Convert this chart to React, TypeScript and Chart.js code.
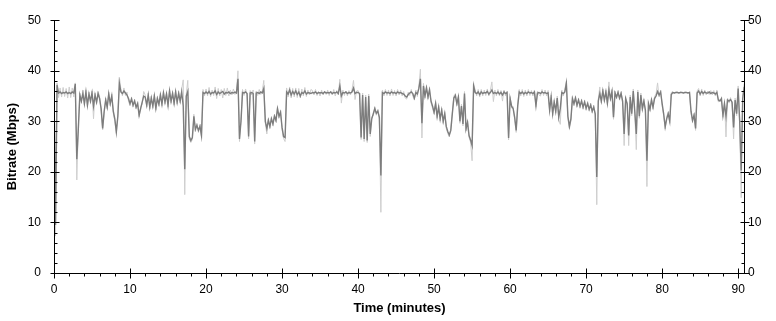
import { useEffect, useRef } from "react";
import { Chart, registerables } from "chart.js";

Chart.register(...registerables);

// Sampling interval of the trace (minutes)
const SAMPLE_STEP_MIN = 0.2;

// Main (average) bitrate trace, Mbps, one value per 0.2 min, rows of 2 minutes
const bitrateMbps: number[] = [
  36, 9.5, 37.2, 35.6, 35.8, 35.5, 35.7, 35.6, 35.8, 35.5,
  35.7, 35.5, 35.8, 35.6, 37.4, 22.5, 28.5, 35.2, 34.0, 35.5,
  33.5, 35.8, 33.2, 35.4, 34.0, 35.6, 33.0, 35.2, 33.8, 35.5,
  34.5, 32.5, 28.6, 32.0, 34.2, 32.8, 35.4, 33.5, 35.0, 32.0,
  30.5, 27.9, 31.0, 37.5, 35.8, 35.5, 36.0, 35.6, 35.2, 34.5,
  33.5, 34.4, 33.2, 34.0, 32.8, 33.5, 31.2, 32.5, 33.8, 35.0,
  34.8, 33.2, 35.2, 32.8, 34.6, 33.0, 35.0, 32.6, 34.5, 33.4,
  35.2, 33.4, 35.6, 33.8, 35.4, 33.2, 36.0, 34.0, 35.5, 33.6,
  35.8, 33.8, 35.5, 34.0, 35.8, 33.0, 20.5, 35.0, 35.9, 27.0,
  26.2, 26.8, 31.0, 28.4, 29.2, 28.2, 29.0, 27.2, 35.7, 35.5,
  35.8, 35.5, 35.9, 35.4, 35.7, 35.6, 36.0, 35.3, 35.8, 35.5,
  35.7, 35.9, 35.4, 35.7, 35.6, 35.8, 35.5, 35.7, 35.6, 35.8,
  35.6, 38.4, 26.5, 30.0, 35.7, 35.6, 35.8, 35.5, 27.0, 35.6,
  35.7, 35.5, 26.0, 35.6, 35.7, 35.5, 35.8, 35.6, 36.5, 30.0,
  28.6, 30.2, 29.0, 30.5, 29.5, 31.0, 30.2, 32.5, 31.0, 31.8,
  28.8, 27.0, 26.8, 35.8, 35.4, 36.2, 35.2, 35.9, 35.4, 36.0,
  35.3, 35.8, 35.0, 35.7, 35.5, 36.0, 35.4, 35.7, 35.6, 35.5,
  35.7, 35.6, 35.8, 35.5, 35.7, 35.6, 35.7, 35.5, 35.8, 35.6,
  35.7, 35.6, 35.8, 35.5, 35.7, 35.6, 35.8, 35.5, 37.0, 35.0,
  35.7, 35.6, 35.8, 35.5, 35.7, 35.6, 35.8, 36.6, 35.5, 35.7,
  35.7, 35.5, 26.8, 35.2, 26.5, 34.8, 26.2, 35.0, 27.5, 30.5,
  31.5, 32.5, 31.6, 32.0, 30.8, 19.3, 35.7, 35.5, 35.8, 35.6,
  35.7, 35.5, 35.8, 35.6, 35.7, 35.5, 35.8, 35.6, 35.7, 35.5,
  35.4, 35.0, 34.8, 35.3, 35.6, 35.8, 35.5, 34.6, 35.7, 35.4,
  36.5, 38.4, 29.6, 37.0, 35.0, 36.6, 34.8, 36.2, 34.0, 33.0,
  31.8, 33.5, 31.0, 32.8, 30.5, 32.2, 30.0, 31.5, 29.0, 28.0,
  27.3, 28.2, 31.5, 34.6, 35.1, 33.5, 34.8, 30.0, 33.0, 29.5,
  35.5, 28.5, 29.8, 27.2, 26.3, 25.2, 37.0, 35.7, 35.5, 35.8,
  35.3, 35.8, 35.5, 35.7, 35.6, 35.9, 35.4, 35.7, 36.2, 35.5,
  35.7, 35.5, 35.8, 35.4, 35.7, 35.2, 35.8, 35.5, 35.7, 26.7,
  34.5, 33.0, 32.5, 30.8, 28.2, 33.0, 35.8, 35.5, 35.8, 35.4,
  35.7, 35.5, 35.8, 35.6, 35.7, 35.5, 35.8, 33.1, 35.6, 35.7,
  35.5, 35.8, 35.6, 35.7, 35.5, 35.6, 32.2, 34.8, 31.5, 33.8,
  32.0, 34.6, 30.8, 32.5, 35.7, 35.5, 35.8, 37.5, 31.0, 29.0,
  30.5, 34.5, 33.5, 34.6, 33.2, 34.2, 33.0, 34.0, 32.8, 33.8,
  32.6, 33.5, 32.4, 33.2, 32.0, 32.8, 31.5, 19.0, 34.0, 35.5,
  34.0, 36.0, 34.2, 35.8, 33.6, 36.2, 34.5, 35.9, 30.8, 35.6,
  34.8, 35.7, 34.6, 35.5, 34.0, 27.5, 34.5, 33.5, 27.2, 34.8,
  31.5, 36.0, 32.0, 27.5, 35.8, 31.0, 35.2, 32.5, 34.0, 32.2,
  22.2, 33.5, 32.4, 34.2, 32.8, 34.5, 35.0, 35.9, 35.2, 35.8,
  33.5, 31.5, 28.9, 30.5, 31.5, 30.0, 35.3, 35.7, 35.6, 35.7,
  35.7, 35.6, 35.7, 35.7, 35.6, 35.7, 35.7, 35.6, 35.7, 32.0,
  30.2, 31.2, 28.6, 35.6, 36.0, 35.4, 35.9, 35.5, 35.8, 35.6,
  35.6, 35.8, 35.5, 35.7, 35.6, 35.4, 35.7, 34.2, 34.0, 34.5,
  31.2, 33.5, 31.0, 34.2, 34.0, 34.3, 33.8, 28.8, 34.2, 31.5,
  36.5, 30.0, 20.3, 34.5, 36.8,
];

// Peak / spread trace (light grey), same sampling
const peakMbps: number[] = [
  36.5, 7.3, 37.6, 34.7, 36.6, 34.8, 36.7, 34.9, 36.5, 34.6,
  36.8, 34.7, 36.6, 34.8, 37.6, 18.4, 29.0, 35.6, 33.6, 36.2,
  33.2, 36.2, 32.9, 35.8, 33.6, 36.0, 30.5, 35.6, 33.4, 35.9,
  34.9, 32.0, 28.3, 31.6, 34.6, 32.4, 35.8, 33.1, 35.4, 31.6,
  30.0, 27.6, 31.5, 38.7, 36.4, 35.0, 36.6, 35.1, 35.8, 34.0,
  33.1, 34.8, 32.8, 34.4, 32.4, 33.9, 30.9, 32.9, 33.4, 35.9,
  35.2, 32.8, 35.6, 32.4, 35.0, 32.6, 35.4, 32.2, 34.9, 33.0,
  35.6, 33.0, 36.0, 33.4, 35.8, 32.8, 36.4, 33.6, 35.9, 33.2,
  36.2, 33.4, 36.0, 33.6, 36.4, 38.2, 15.5, 35.4, 38.1, 26.5,
  25.8, 26.4, 31.4, 28.0, 29.6, 27.8, 29.4, 26.8, 36.3, 35.0,
  36.4, 35.0, 36.7, 34.9, 36.2, 35.1, 36.8, 34.5, 36.5, 35.0,
  36.3, 34.6, 36.5, 35.1, 36.6, 35.0, 36.2, 35.2, 36.4, 35.3,
  36.0, 40.0, 26.0, 30.4, 36.3, 35.1, 36.4, 35.2, 26.5, 36.1,
  35.2, 36.2, 25.5, 36.0, 35.1, 36.3, 35.3, 36.0, 38.1, 29.6,
  27.5, 30.6, 28.6, 30.9, 29.1, 31.4, 29.8, 32.9, 30.6, 32.2,
  28.4, 26.6, 26.0, 36.6, 34.8, 36.8, 34.6, 36.5, 34.8, 36.6,
  34.7, 36.5, 34.6, 36.4, 35.0, 36.7, 34.9, 36.2, 35.2, 36.3,
  36.1, 35.2, 36.3, 35.1, 35.9, 35.0, 36.2, 35.2, 36.0, 35.3,
  36.2, 35.1, 36.0, 35.2, 36.3, 35.0, 36.1, 35.2, 38.3, 33.6,
  36.2, 35.1, 36.0, 35.0, 36.1, 35.2, 36.2, 38.1, 34.3, 36.0,
  36.1, 35.1, 26.4, 35.6, 26.0, 35.2, 25.8, 35.4, 27.0, 30.9,
  31.1, 32.9, 31.2, 32.4, 30.4, 12.0, 36.2, 35.0, 36.3, 35.1,
  36.2, 35.0, 36.4, 35.1, 36.1, 35.0, 36.3, 35.2, 36.2, 35.0,
  35.9, 34.6, 34.4, 35.8, 35.1, 36.3, 35.0, 34.2, 36.2, 34.9,
  37.0, 40.3, 26.7, 37.5, 34.6, 37.1, 34.4, 36.7, 33.6, 32.6,
  31.4, 33.9, 30.6, 33.2, 30.1, 32.6, 29.6, 31.9, 28.6, 27.6,
  26.9, 28.6, 31.9, 35.0, 35.5, 33.1, 35.2, 29.6, 33.4, 29.1,
  35.9, 28.1, 30.2, 26.8, 25.9, 22.2, 37.5, 36.2, 35.0, 36.3,
  34.8, 36.3, 35.0, 36.2, 35.1, 36.4, 35.0, 36.1, 37.8, 33.9,
  36.2, 35.0, 36.3, 35.0, 36.1, 34.0, 36.2, 35.0, 36.0, 26.3,
  34.9, 32.6, 32.9, 30.4, 27.8, 33.4, 36.3, 35.0, 36.3, 34.9,
  36.2, 35.0, 36.3, 35.1, 36.1, 35.0, 36.2, 32.8, 36.0, 35.2,
  35.0, 36.3, 35.1, 36.2, 35.0, 36.1, 31.8, 35.2, 31.1, 34.2,
  31.6, 35.0, 30.4, 29.4, 36.2, 35.0, 36.3, 38.0, 30.6, 28.5,
  30.1, 34.9, 33.1, 35.0, 32.8, 34.6, 32.6, 34.4, 32.4, 34.2,
  32.2, 33.9, 32.0, 33.6, 31.6, 33.2, 31.1, 13.5, 34.4, 36.8,
  33.6, 36.4, 33.8, 36.2, 33.2, 37.8, 34.1, 36.3, 30.4, 36.0,
  34.4, 36.1, 34.2, 35.9, 33.6, 25.2, 34.9, 33.1, 25.2, 35.2,
  31.1, 36.4, 31.6, 24.4, 36.2, 30.6, 35.6, 32.1, 34.4, 31.8,
  17.1, 33.9, 32.0, 34.6, 32.4, 34.9, 35.4, 37.6, 34.8, 36.2,
  33.1, 31.1, 28.5, 30.9, 31.9, 29.6, 35.7, 35.9, 35.5, 35.8,
  35.8, 35.6, 35.8, 35.7, 35.6, 35.8, 35.7, 35.6, 35.8, 31.6,
  29.8, 31.6, 28.2, 36.0, 36.5, 35.0, 36.4, 35.1, 36.2, 35.2,
  36.0, 35.3, 36.1, 35.2, 36.1, 35.0, 36.2, 33.8, 34.4, 34.1,
  30.8, 33.9, 26.9, 34.6, 33.6, 34.7, 33.4, 26.5, 34.6, 31.1,
  37.0, 29.6, 14.9, 34.9, 37.5,
];

const timeMinutes: number[] = bitrateMbps.map((_, i) => Math.round(i * SAMPLE_STEP_MIN * 10) / 10);

const xTickValues = [0, 10, 20, 30, 40, 50, 60, 70, 80, 90];
const yTickValues = [0, 10, 20, 30, 40, 50];
const X_MAX = 90.9;

const FONT = "'Liberation Sans', Arial, sans-serif";

const axisTicksPlugin = {
  id: "axisTicks",
  afterDraw(chart: any) {
    const { ctx, chartArea: a, scales } = chart;
    const xs = scales.x;
    const ys = scales.y;
    const L = Math.round(a.left) + 0.5;
    const R = Math.round(a.right) - 0.5;
    const B = Math.round(a.bottom) + 0.5;
    const T = Math.round(a.top);
    ctx.save();
    ctx.strokeStyle = "#000";
    ctx.lineWidth = 1;
    ctx.beginPath();
    ctx.moveTo(L, T);
    ctx.lineTo(L, B);
    ctx.lineTo(R, B);
    ctx.lineTo(R, T);
    for (let v = 0; v <= 50; v += 2) {
      const yy = Math.round(ys.getPixelForValue(v)) + 0.5;
      if (yTickValues.includes(v)) {
        ctx.moveTo(L - 4, yy); ctx.lineTo(L + 5, yy);
        ctx.moveTo(R - 4, yy); ctx.lineTo(R + 5, yy);
      } else {
        ctx.moveTo(L, yy); ctx.lineTo(L + 3, yy);
        ctx.moveTo(R - 3, yy); ctx.lineTo(R, yy);
      }
    }
    for (let v = 0; v <= 90; v += 2) {
      const xx = Math.round(xs.getPixelForValue(v)) + 0.5;
      if (xTickValues.includes(v)) {
        ctx.moveTo(xx, B - 5); ctx.lineTo(xx, B + 5);
      } else {
        ctx.moveTo(xx, B); ctx.lineTo(xx, B + 3);
      }
    }
    ctx.stroke();
    ctx.restore();
  },
};

export default function App() {
  const canvasRef = useRef<HTMLCanvasElement | null>(null);

  useEffect(() => {
    document.body.style.margin = "0";
    const canvas = canvasRef.current;
    if (!canvas) return;
    const mainData = timeMinutes.map((t, i) => ({ x: t, y: bitrateMbps[i] }));
    const peakData = timeMinutes.map((t, i) => ({ x: t, y: peakMbps[i] }));
    const chart = new Chart(canvas, {
      type: "line",
      data: {
        datasets: [
          {
            label: "Bitrate",
            data: mainData,
            borderColor: "rgb(125,125,125)",
            borderWidth: 1.4,
            pointRadius: 0,
            tension: 0,
            fill: false,
          },
          {
            label: "Peak",
            data: peakData,
            borderColor: "rgb(206,206,206)",
            borderWidth: 1,
            pointRadius: 0,
            tension: 0,
            fill: false,
          },
        ],
      },
      options: {
        responsive: false,
        animation: false,
        devicePixelRatio: 1,
        layout: { padding: { top: 11, left: 0, right: 0, bottom: 0 } },
        plugins: { legend: { display: false }, tooltip: { enabled: false } },
        scales: {
          x: {
            type: "linear",
            min: 0,
            max: X_MAX,
            afterFit: (s: any) => { s.height = 48; },
            afterBuildTicks: (s: any) => { s.ticks = xTickValues.map((v) => ({ value: v })); },
            grid: { display: false, drawTicks: false },
            border: { display: false },
            ticks: {
              padding: 9,
              color: "#000",
              font: { family: FONT, size: 12 },
              maxRotation: 0,
              autoSkip: false,
            },
            title: {
              display: true,
              text: "Time (minutes)",
              color: "#000",
              font: { family: FONT, size: 13, weight: "bold" },
              padding: { top: 0, bottom: 5 },
            },
          },
          y: {
            type: "linear",
            position: "left",
            min: 0,
            max: 50,
            afterFit: (s: any) => { s.width = 54; },
            afterBuildTicks: (s: any) => { s.ticks = yTickValues.map((v) => ({ value: v })); },
            grid: { display: false, drawTicks: false },
            border: { display: false },
            ticks: { padding: 13, color: "#000", font: { family: FONT, size: 12 } },
            title: {
              display: true,
              text: "Bitrate (Mbps)",
              color: "#000",
              font: { family: FONT, size: 13, weight: "bold" },
              padding: { top: 5, bottom: 0 },
            },
          },
          y2: {
            type: "linear",
            position: "right",
            min: 0,
            max: 50,
            afterFit: (s: any) => { s.width = 31; },
            afterBuildTicks: (s: any) => { s.ticks = yTickValues.map((v) => ({ value: v })); },
            grid: { display: false, drawTicks: false },
            border: { display: false },
            ticks: { padding: 3, color: "#000", font: { family: FONT, size: 12 } },
          },
        },
      },
      plugins: [axisTicksPlugin],
    });
    return () => chart.destroy();
  }, []);

  return (
    <div style={{ position: "absolute", left: 0, top: 0, width: 776, height: 321, background: "#fff" }}>
      <canvas ref={canvasRef} width={776} height={321} />
    </div>
  );
}
